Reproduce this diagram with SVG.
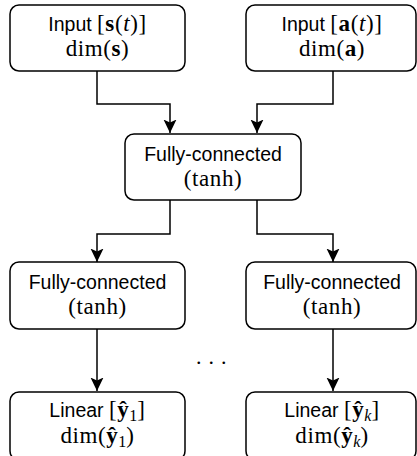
<svg xmlns="http://www.w3.org/2000/svg" width="417" height="456" viewBox="0 0 417 456">
<defs>
<style>
.box{fill:#fff;stroke:#000;stroke-width:1.5}
.edge{fill:none;stroke:#000;stroke-width:1.5}
text{fill:#000;text-anchor:middle}
.s{font-family:"Liberation Sans",Arial,sans-serif;font-size:19.5px}
.m{font-family:"Liberation Serif","Times New Roman",serif;font-size:23px;letter-spacing:0.6px}
.b{font-weight:bold}
.i{font-style:italic}
.sub{font-size:16px;letter-spacing:0}
</style>
<marker id="arr" viewBox="0 0 14 14" refX="13.5" refY="7" markerWidth="14" markerHeight="14" markerUnits="userSpaceOnUse" orient="auto">
<path d="M13.5,7 L0,0.5 L3,7 L0,13.5 Z" fill="#000"/>
</marker>
</defs>
<rect width="417" height="456" fill="#fff"/>
<g id="connectors">
<path class="edge" d="M97,71 V104 H170 V133" marker-end="url(#arr)"/>
<path class="edge" d="M333,71 V104 H257 V133" marker-end="url(#arr)"/>
<path class="edge" d="M170,200 V234 H97 V262" marker-end="url(#arr)"/>
<path class="edge" d="M257,200 V234 H333 V262" marker-end="url(#arr)"/>
<path class="edge" d="M97,329 V391" marker-end="url(#arr)"/>
<path class="edge" d="M333,329 V391" marker-end="url(#arr)"/>
</g>
<g id="input-s">
<rect class="box" x="10" y="5" width="175" height="66" rx="9"/>
<text x="97.5" y="31"><tspan class="s">Input </tspan><tspan class="m">[</tspan><tspan class="m b">s</tspan><tspan class="m">(</tspan><tspan class="m i">t</tspan><tspan class="m">)]</tspan></text>
<text x="97.5" y="56" class="m">dim(<tspan class="b">s</tspan>)</text>
</g>
<g id="input-a">
<rect class="box" x="246" y="5" width="170" height="66" rx="9"/>
<text x="332" y="31"><tspan class="s">Input </tspan><tspan class="m">[</tspan><tspan class="m b">a</tspan><tspan class="m">(</tspan><tspan class="m i">t</tspan><tspan class="m">)]</tspan></text>
<text x="332" y="56" class="m">dim(<tspan class="b">a</tspan>)</text>
</g>
<g id="fc-shared">
<rect class="box" x="125" y="134" width="176" height="66" rx="9"/>
<text x="213" y="161" class="s">Fully-connected</text>
<text x="213" y="186" class="m">(tanh)</text>
</g>
<g id="fc-1">
<rect class="box" x="10" y="262" width="175" height="67" rx="9"/>
<text x="97.5" y="289" class="s">Fully-connected</text>
<text x="97.5" y="314" class="m">(tanh)</text>
</g>
<g id="fc-k">
<rect class="box" x="246" y="262" width="170" height="67" rx="9"/>
<text x="332" y="289" class="s">Fully-connected</text>
<text x="332" y="314" class="m">(tanh)</text>
</g>
<g id="dots">
<text x="196" y="364" class="m" style="text-anchor:start;font-size:22px;letter-spacing:7px">...</text>
</g>
<g id="linear-1">
<rect class="box" x="10" y="392" width="175" height="68" rx="9"/>
<text x="97.5" y="417"><tspan class="s">Linear </tspan><tspan class="m">[</tspan><tspan class="m b">ŷ</tspan><tspan class="m sub" dy="4">1</tspan><tspan class="m" dy="-4">]</tspan></text>
<text x="97.5" y="443" class="m">dim(<tspan class="b">ŷ</tspan><tspan class="sub" dy="4">1</tspan><tspan dy="-4">)</tspan></text>
</g>
<g id="linear-k">
<rect class="box" x="246" y="392" width="170" height="68" rx="9"/>
<text x="332" y="417"><tspan class="s">Linear </tspan><tspan class="m">[</tspan><tspan class="m b">ŷ</tspan><tspan class="m sub i" dy="4">k</tspan><tspan class="m" dy="-4">]</tspan></text>
<text x="332" y="443" class="m">dim(<tspan class="b">ŷ</tspan><tspan class="sub i" dy="4">k</tspan><tspan dy="-4">)</tspan></text>
</g>
</svg>
